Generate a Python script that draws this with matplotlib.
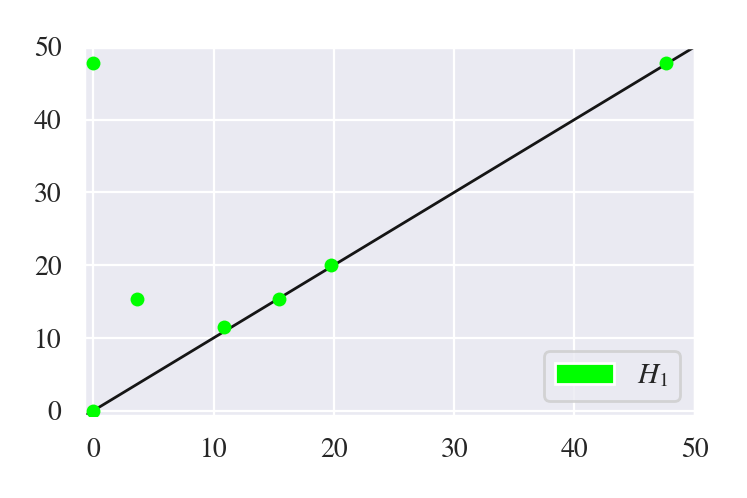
import matplotlib
matplotlib.use("Agg")
import matplotlib.pyplot as plt
import matplotlib.patches as mpatches
import seaborn as sns
import numpy as np

# values
x_vals = [0.0, 0.0, 3.6, 10.9, 15.4, 19.8, 47.6]
y_vals = [47.8, 0.0, 15.4, 11.5, 15.4, 20.0, 47.8]
diag = [-0.8, 50]
ticks = [0, 10, 20, 30, 40, 50]

sns.set_theme(style="darkgrid")
plt.rcParams['font.family'] = ['STIXGeneral', 'Liberation Serif', 'DejaVu Serif']
plt.rcParams['mathtext.fontset'] = 'stix'

fig = plt.figure(figsize=(3.735, 2.49), dpi=200)
ax = fig.add_axes([0.112, 0.165, 0.818, 0.741])

ax.scatter(x_vals, y_vals, s=25, color='#00ff00', zorder=3, linewidths=0)
ax.plot(diag, diag, color='#151515', lw=1.0, zorder=2)

ax.set_xlim(-0.8, 50)
ax.set_ylim(-0.7, 50)
ax.set_xticks(ticks)
ax.set_yticks(ticks)
ax.tick_params(labelsize=10, pad=2, labelcolor='#262626')
ax.grid(lw=0.8)

handle = mpatches.Patch(facecolor='#00ff00', edgecolor='w', label='$H_1$')
ax.legend(handles=[handle], loc='lower right', fontsize=10.5)

fig.savefig('out.png', dpi=200)
